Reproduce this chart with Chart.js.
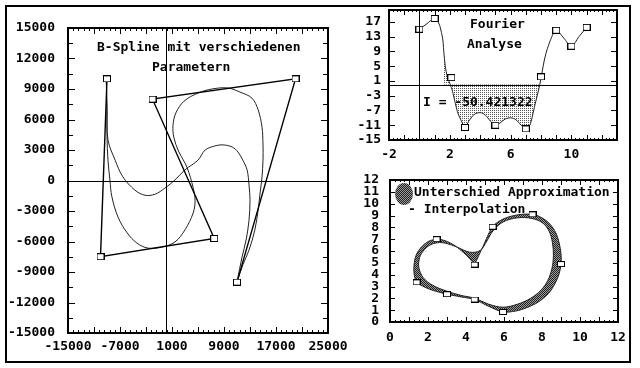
<!DOCTYPE html>
<html>
<head>
<meta charset="utf-8">
<script src="https://cdn.jsdelivr.net/npm/chart.js@4.4.1/dist/chart.umd.min.js"></script>
<style>
  html, body { margin: 0; padding: 0; background: #fff; }
  #page { position: relative; width: 640px; height: 368px; overflow: hidden; background: #fff; }
  #frame { position: absolute; left: 5px; top: 5px; width: 622px; height: 354px; border: 2px solid #000; }
  canvas { position: absolute; }
  .txt { position: absolute; font: bold 13px 'DejaVu Sans Mono', monospace; line-height: 13px; white-space: pre; color: #000; }
  #blob { position: absolute; left: 395px; top: 183px; width: 18px; height: 22px; border-radius: 50%;
          background: repeating-conic-gradient(#222 0 25%, #999 0 50%) 0 0 / 2px 2px; }
</style>
</head>
<body>
<div id="page">
  <div id="frame"></div>
  <canvas id="spline" width="355" height="368" style="left:0;top:0"></canvas>
  <canvas id="fourier" width="300" height="170" style="left:340px;top:0"></canvas>
  <canvas id="diff" width="300" height="198" style="left:340px;top:170px"></canvas>
  <div class="txt" style="left:97px;top:40px">B-Spline mit verschiedenen</div>
  <div class="txt" style="left:152px;top:60px">Parametern</div>
  <div class="txt" style="left:470px;top:17px">Fourier</div>
  <div class="txt" style="left:467px;top:37px">Analyse</div>
  <div class="txt" style="left:423px;top:95px">I = -50.421322</div>
  <div id="blob"></div>
  <div class="txt" style="left:414px;top:185px">Unterschied Approximation</div>
  <div class="txt" style="left:408px;top:202px">- Interpolation</div>
</div>
<script>
// --- B-Spline chart (left) ---
const splineCtrlX = [-9000, -10000, 7500, -2000, 20000, 11000];
const splineCtrlY = [10000, -7500, -5700, 8000, 10000, -10000];
const splineAX = [-9100, -9000, -8850, -7750, -6550, -4700, -3150, -1600, -100, 1450, 3000, 5000, 6100, 7600, 8850, 10250, 11150, 11900, 12550, 12850, 13000, 12850, 12400, 11750, 11000];
const splineAY = [9700, 6900, 4000, 2000, 350, -950, -1450, -1350, -750, 50, 1050, 2000, 3000, 3400, 3500, 3300, 2800, 2000, 1050, -450, -1900, -3900, -5850, -7600, -10000];
const splineBX = [-9100, -9000, -9000, -8850, -8550, -8250, -7300, -5900, -4400, -2700, -550, 1450, 3000, 4250, 4550, 4250, 3300, 2000, 1300, 1150, 1600, 2850, 5000, 7150, 9600, 11450, 13300, 14250, 14850, 15000, 15000, 14850, 14550, 14250, 13750, 12850, 11900, 11000];
const splineBY = [9700, 6900, 4300, 2000, 50, -1600, -3600, -5150, -6150, -6650, -6550, -6050, -4850, -3200, -2000, -700, 1300, 2900, 4200, 5400, 6650, 7800, 8600, 9000, 9100, 8700, 8100, 6950, 5250, 3500, 2000, 350, -1250, -2900, -4850, -6850, -8300, -10000];
const splineXTicks = [-15000, -7000, 1000, 9000, 17000, 25000];
const splineYTicks = [15000, 12000, 9000, 6000, 3000, 0, -3000, -6000, -9000, -12000, -15000];

// --- Fourier chart (top right) ---
const fourierX = [0, 0.5, 1, 1.3, 1.45, 1.55, 1.62, 1.72, 1.87, 2.03, 2.18, 2.33, 2.5, 2.72, 3, 3.3, 3.6, 4, 4.35, 4.7, 5, 5.3, 5.65, 6, 6.35, 6.7, 7, 7.3, 7.6, 7.92, 8.25, 8.58, 9, 9.5, 10, 10.5, 11];
const fourierY = [15.0, 16.5, 17.9, 16.4, 14.1, 11.8, 8.2, 4.5, 1.8, 0, -1.8, -4.5, -7.3, -9.5, -11.3, -9.6, -8.1, -7.6, -8.3, -10, -11, -10.4, -9.3, -9, -9.5, -11, -12, -10.6, -5.5, 0, 7.2, 11.6, 14.7, 12.6, 10.4, 13.0, 15.5];
const fourierPtX = [0, 1, 2.1, 3, 5, 7, 8, 9, 10, 11];
const fourierPtY = [15.0, 17.9, 1.9, -11.6, -11.0, -12.0, 2.1, 14.7, 10.4, 15.5];
const fourierFillFrom = 1.55;
const fourierFillTo = 7.92;
const fourierXTicks = [-2, 2, 6, 10];
const fourierYTicks = [17, 13, 9, 5, 1, -3, -7, -11, -15];

// --- Approximation vs interpolation (bottom right) ---
const diffPtX = [4.45, 5.4, 7.5, 9.0, 5.95, 4.45, 3.0, 1.4, 2.45];
const diffPtY = [4.85, 8.05, 9.1, 4.9, 0.85, 1.9, 2.35, 3.35, 7.0];
const interpX = [4.45, 4.9, 5.4, 5.95, 6.7, 7.5, 8.0, 8.42, 8.72, 8.9, 9.0, 9.0, 8.9, 8.68, 8.33, 7.8, 7.2, 6.6, 5.95, 5.2, 4.45, 3.74, 3.0, 2.28, 1.84, 1.4, 1.26, 1.28, 1.4, 1.67, 2.02, 2.45, 2.9, 3.42, 3.86, 4.21, 4.45];
const interpY = [4.85, 6.4, 8.05, 8.7, 9.05, 9.1, 8.8, 8.27, 7.56, 6.7, 5.75, 4.9, 4.07, 3.23, 2.39, 1.68, 1.21, 0.92, 0.85, 1.32, 1.9, 2.12, 2.35, 2.66, 2.94, 3.35, 4.2, 5.04, 5.75, 6.36, 6.81, 7.0, 6.87, 6.45, 5.88, 5.33, 4.85];
const approxX = [3.5, 4.2, 4.75, 5.1, 5.42, 5.95, 6.7, 7.47, 8.05, 8.38, 8.55, 8.6, 8.52, 8.3, 7.95, 7.4, 6.7, 5.95, 5.2, 4.47, 3.74, 3.0, 2.25, 1.75, 1.52, 1.56, 1.8, 2.1, 2.5, 2.95, 3.5];
const approxY = [6.35, 5.9, 6.05, 6.85, 7.7, 8.45, 8.8, 8.75, 8.35, 7.65, 6.7, 5.6, 4.5, 3.5, 2.7, 2.0, 1.5, 1.25, 1.5, 2.0, 2.25, 2.6, 3.1, 3.75, 4.6, 5.45, 6.1, 6.5, 6.7, 6.65, 6.35];
const diffXTicks = [0, 2, 4, 6, 8, 10, 12];
const diffYTicks = [0, 1, 2, 3, 4, 5, 6, 7, 8, 9, 10, 11, 12];

Chart.defaults.font.family = "'DejaVu Sans Mono', monospace";
Chart.defaults.font.size = 13;
Chart.defaults.font.weight = 'bold';
Chart.defaults.color = '#000';
Chart.defaults.animation = false;
Chart.defaults.responsive = false;
Chart.defaults.plugins.legend.display = false;
Chart.defaults.plugins.tooltip.enabled = false;

const pts = (xs, ys) => xs.map((x, i) => ({ x, y: ys[i] }));

function makePattern(cells, size) {
  const c = document.createElement('canvas');
  c.width = c.height = size;
  const g = c.getContext('2d');
  cells.forEach(([x, y, col]) => { g.fillStyle = col; g.fillRect(x, y, 1, 1); });
  return g.createPattern(c, 'repeat');
}

function squareMark(w, h) {
  const c = document.createElement('canvas');
  c.width = w; c.height = h;
  const g = c.getContext('2d');
  g.fillStyle = '#fff';
  g.fillRect(0, 0, w, h);
  g.strokeStyle = '#000';
  g.lineWidth = 1;
  g.strokeRect(0.5, 0.5, w - 1, h - 1);
  return c;
}

function axis(min, max, ticks, size, pad, horizontal) {
  return {
    type: 'linear', min, max,
    grid: { display: false, drawTicks: false },
    border: { display: false },
    afterBuildTicks: s => { s.ticks = ticks.map(v => ({ value: v })); },
    // fixed axis size, and no extra room for label overflow
    afterFit: s => {
      if (horizontal) s.height = size; else s.width = size;
      s.paddingTop = s.paddingBottom = s.paddingLeft = s.paddingRight = 0;
    },
    ticks: { autoSkip: false, maxRotation: 0, padding: pad, callback: v => String(v) }
  };
}

// box, inward tick marks and zero lines
const frameTicks = {
  id: 'frameTicks',
  afterDraw(chart, args, opts) {
    const { ctx, chartArea: a, scales: { x, y } } = chart;
    ctx.save();
    ctx.strokeStyle = '#000';
    ctx.lineWidth = 1;
    ctx.beginPath();
    (opts.marks || []).forEach(([ax, from, to, step, len]) => {
      for (let v = from; v <= to + 1e-9; v += step) {
        if (ax === 'x') {
          const px = Math.round(x.getPixelForValue(v)) + 0.5;
          ctx.moveTo(px, a.bottom); ctx.lineTo(px, a.bottom - len);
          ctx.moveTo(px, a.top); ctx.lineTo(px, a.top + len);
        } else {
          const py = Math.round(y.getPixelForValue(v)) + 0.5;
          ctx.moveTo(a.left, py); ctx.lineTo(a.left + len, py);
          ctx.moveTo(a.right, py); ctx.lineTo(a.right - len, py);
        }
      }
    });
    if (opts.zero) {
      const px = Math.round(x.getPixelForValue(0)) + 0.5;
      const py = Math.round(y.getPixelForValue(0)) + 0.5;
      ctx.moveTo(px, a.top); ctx.lineTo(px, a.bottom);
      ctx.moveTo(a.left, py); ctx.lineTo(a.right, py);
    }
    ctx.stroke();
    ctx.lineWidth = 2;
    ctx.strokeRect(a.left, a.top, a.right - a.left, a.bottom - a.top);
    ctx.restore();
  }
};

// shade the area between two closed curves
const bandFill = {
  id: 'bandFill',
  beforeDatasetsDraw(chart, args, opts) {
    if (!opts.pair) return;
    const { ctx, chartArea: a } = chart;
    ctx.save();
    ctx.beginPath();
    ctx.rect(a.left, a.top, a.right - a.left, a.bottom - a.top);
    ctx.clip();
    ctx.beginPath();
    opts.pair.forEach(i => {
      const line = chart.getDatasetMeta(i).dataset;
      line.updateControlPoints(a, 'x');
      line.path(ctx);
    });
    ctx.fillStyle = opts.fill;
    ctx.fill('evenodd');
    ctx.restore();
  }
};

const mark = squareMark(8, 7);

new Chart(document.getElementById('spline'), {
  type: 'scatter',
  data: {
    datasets: [
      { data: pts(splineCtrlX, splineCtrlY), pointStyle: mark, showLine: false },
      { data: pts(splineCtrlX, splineCtrlY), showLine: true, borderColor: '#000', borderWidth: 1.4, pointRadius: 0 },
      { data: pts(splineAX, splineAY), showLine: true, borderColor: '#222', borderWidth: 1, tension: 0.35, pointRadius: 0 },
      { data: pts(splineBX, splineBY), showLine: true, borderColor: '#222', borderWidth: 1, tension: 0.35, pointRadius: 0 }
    ]
  },
  options: {
    layout: { padding: { left: 0, top: 28, right: 27, bottom: 0 } },
    scales: {
      x: axis(-15000, 25000, splineXTicks, 35, 6, true),
      y: axis(-15000, 15000, splineYTicks, 68, 13, false)
    },
    plugins: {
      frameTicks: {
        zero: true,
        marks: [['x', -15000, 25000, 4000, 6], ['x', -15000, 25000, 800, 3], ['y', -15000, 15000, 3000, 7], ['y', -15000, 15000, 1500, 5]]
      }
    }
  },
  plugins: [frameTicks]
});

const dots = makePattern([[0, 0, '#555']], 2);
const fillStart = fourierX.indexOf(fourierFillFrom);
const fillEnd = fourierX.indexOf(fourierFillTo);

new Chart(document.getElementById('fourier'), {
  type: 'line',
  data: {
    datasets: [
      { data: pts(fourierPtX, fourierPtY), pointStyle: mark, showLine: false },
      {
        data: pts(fourierX, fourierY), borderColor: '#222', borderWidth: 1, pointRadius: 0,
        cubicInterpolationMode: 'monotone', fill: 'origin', backgroundColor: 'rgba(0,0,0,0)',
        segment: {
          backgroundColor: c => (c.p0DataIndex >= fillStart && c.p1DataIndex <= fillEnd) ? dots : 'rgba(0,0,0,0)'
        }
      }
    ]
  },
  options: {
    layout: { padding: { left: 0, top: 10, right: 23, bottom: 0 } },
    scales: {
      x: axis(-2, 13, fourierXTicks, 30, 7, true),
      y: axis(-15, 20.2, fourierYTicks, 49, 8, false)
    },
    plugins: {
      frameTicks: {
        zero: true,
        marks: [['x', -2, 13, 1, 5], ['x', -2, 13, 0.25, 2], ['y', -11, 17, 4, 6]]
      }
    }
  },
  plugins: [frameTicks]
});

const shade = makePattern([[0, 0, '#222'], [1, 1, '#222'], [1, 0, '#999'], [0, 1, '#999']], 2);

new Chart(document.getElementById('diff'), {
  type: 'scatter',
  data: {
    datasets: [
      { data: pts(diffPtX, diffPtY), pointStyle: squareMark(8, 6), showLine: false },
      { data: pts(interpX, interpY), showLine: true, borderColor: '#222', borderWidth: 1, tension: 0.3, pointRadius: 0 },
      { data: pts(approxX, approxY), showLine: true, borderColor: '#222', borderWidth: 1, tension: 0.35, pointRadius: 0 }
    ]
  },
  options: {
    layout: { padding: { left: 0, top: 10, right: 22, bottom: 0 } },
    scales: {
      x: axis(0, 12, diffXTicks, 46, 8, true),
      y: axis(0, 12, diffYTicks, 50, 11, false)
    },
    plugins: {
      bandFill: { pair: [1, 2], fill: shade },
      frameTicks: {
        marks: [['x', 0, 12, 1, 5], ['x', 0, 12, 0.25, 2], ['y', 0, 12, 1, 5]]
      }
    }
  },
  plugins: [bandFill, frameTicks]
});
</script>
</body>
</html>
